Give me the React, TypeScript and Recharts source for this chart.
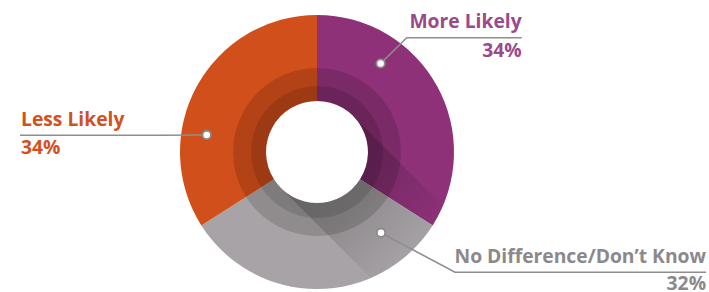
import React from 'react';
import { PieChart, Pie, Cell } from 'recharts';

const categories = ['More Likely', 'No Difference/Don\u2019t Know', 'Less Likely'];
const values = [34, 32, 34];
const sliceColors = ['#8E3179', '#A8A3A6', '#D14F1B'];
const labelColors = ['#9A4A8B', '#8C888B', '#D2511D'];

const data = categories.map((name, i) => ({ name, value: values[i] }));

// layout (not data)
const W = 709;
const H = 292;
const CX = 317;
const CY = 152;
const R_OUT = 137;
const R_IN = 51;
const R_RING1 = 84;
const R_RING2 = 66;
const FONT = 19.3;

const labelLayout = [
  { dotAngle: 54.3, dotR: 109, elbowX: 406.7, lineY: 37.7, endX: 521.7, anchor: 'end', pctDy: 19 },
  { dotAngle: -51.6, dotR: 103, elbowX: 455, lineY: 272.3, endX: 706, anchor: 'end', pctDy: 17.5 },
  { dotAngle: 171.2, dotR: 111.6, elbowX: 160, lineY: 135.3, endX: 20, anchor: 'start', pctDy: 19 },
];

const RAD = Math.PI / 180;

const Shadow = ({ cx, cy }: { cx: number; cy: number }) => {
  const s = Math.SQRT1_2;
  const L = 260;
  const r = R_IN;
  const pts = [
    [cx + r * s, cy - r * s],
    [cx + r * s + L * s, cy - r * s + L * s],
    [cx - r * s + L * s, cy + r * s + L * s],
    [cx - r * s, cy + r * s],
  ]
    .map((q) => q.join(','))
    .join(' ');
  const ring = `M ${cx + R_OUT} ${cy} A ${R_OUT} ${R_OUT} 0 1 0 ${cx - R_OUT} ${cy} A ${R_OUT} ${R_OUT} 0 1 0 ${cx + R_OUT} ${cy} Z M ${cx + R_IN} ${cy} A ${R_IN} ${R_IN} 0 1 0 ${cx - R_IN} ${cy} A ${R_IN} ${R_IN} 0 1 0 ${cx + R_IN} ${cy} Z`;
  const fade = 145;
  return (
    <g>
      <defs>
        <clipPath id="donutClip">
          <path d={ring} clipRule="evenodd" />
        </clipPath>
        <linearGradient
          id="shadowGrad"
          gradientUnits="userSpaceOnUse"
          x1={cx}
          y1={cy}
          x2={cx + fade * s}
          y2={cy + fade * s}
        >
          <stop offset="0" stopColor="#000" stopOpacity={0.2} />
          <stop offset="0.45" stopColor="#000" stopOpacity={0.14} />
          <stop offset="0.8" stopColor="#000" stopOpacity={0.05} />
          <stop offset="1" stopColor="#000" stopOpacity={0} />
        </linearGradient>
      </defs>
      <polygon points={pts} fill="url(#shadowGrad)" clipPath="url(#donutClip)" />
    </g>
  );
};

const renderLabel = (props: any) => {
  const { cx, cy, index, value, name } = props;
  const L = labelLayout[index];
  const dx = cx + L.dotR * Math.cos(L.dotAngle * RAD);
  const dy = cy - L.dotR * Math.sin(L.dotAngle * RAD);
  const color = labelColors[index];
  const textX = L.anchor === 'start' ? L.endX + 1 : L.endX;
  return (
    <g key={`lbl-${index}`}>
      {index === 0 ? <Shadow cx={cx} cy={cy} /> : null}
      <polyline
        points={`${dx},${dy} ${L.elbowX},${L.lineY} ${L.endX},${L.lineY}`}
        fill="none"
        stroke="#8E8E8E"
        strokeWidth={1.6}
      />
      <circle cx={dx} cy={dy} r={4.2} fill="#fff" stroke="#8A8A8A" strokeWidth={1.8} />
      <text
        x={textX}
        y={L.lineY - 9.5}
        textAnchor={L.anchor}
        fill={color}
        fontFamily="'Open Sans', sans-serif"
        fontWeight={700}
        fontSize={FONT}
      >
        {name}
      </text>
      <text
        x={textX}
        y={L.lineY + L.pctDy}
        textAnchor={L.anchor}
        fill={color}
        fontFamily="'Open Sans', sans-serif"
        fontWeight={700}
        fontSize={FONT}
      >
        {`${value}%`}
      </text>
    </g>
  );
};

export default function App() {
  return (
    <div style={{ position: 'absolute', left: 0, top: 0, width: W, height: H, background: '#fff' }}>
      <PieChart width={W} height={H} margin={{ top: 0, right: 0, bottom: 0, left: 0 }}>
        <Pie
          data={data}
          dataKey="value"
          nameKey="name"
          cx={CX}
          cy={CY}
          innerRadius={R_IN}
          outerRadius={R_OUT}
          startAngle={90}
          endAngle={-270}
          stroke="none"
          isAnimationActive={false}
        >
          {data.map((_, i) => (
            <Cell key={i} fill={sliceColors[i]} />
          ))}
        </Pie>
        <Pie
          data={data}
          dataKey="value"
          cx={CX}
          cy={CY}
          innerRadius={R_IN}
          outerRadius={R_RING1}
          startAngle={90}
          endAngle={-270}
          stroke="none"
          fill="#000"
          fillOpacity={0.14}
          isAnimationActive={false}
        />
        <Pie
          data={data}
          dataKey="value"
          cx={CX}
          cy={CY}
          innerRadius={R_IN}
          outerRadius={R_RING2}
          startAngle={90}
          endAngle={-270}
          stroke="none"
          fill="#000"
          fillOpacity={0.12}
          isAnimationActive={false}
        />
        <Pie
          data={data}
          dataKey="value"
          nameKey="name"
          cx={CX}
          cy={CY}
          innerRadius={R_IN}
          outerRadius={R_OUT}
          startAngle={90}
          endAngle={-270}
          stroke="none"
          fill="transparent"
          label={renderLabel}
          labelLine={false}
          isAnimationActive={false}
        />
      </PieChart>
    </div>
  );
}
